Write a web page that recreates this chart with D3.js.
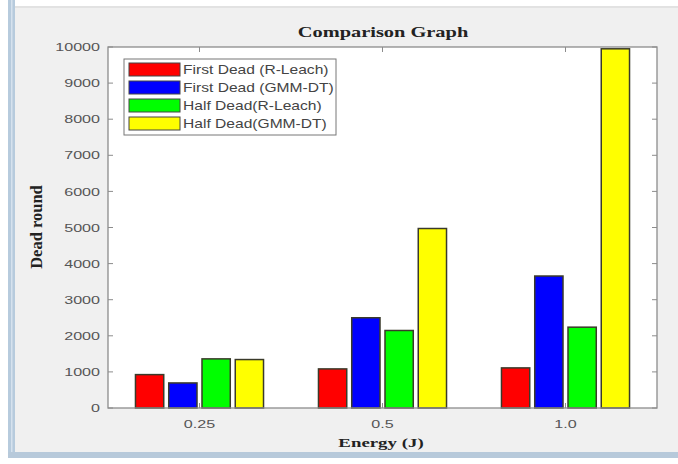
<!DOCTYPE html>
<html>
<head>
<meta charset="utf-8">
<script src="https://cdn.jsdelivr.net/npm/d3@7/dist/d3.min.js"></script>
<style>
  html, body { margin: 0; padding: 0; background: #ffffff; }
  svg { display: block; }
</style>
</head>
<body>
<script>
// ---- data ----
const categories = ["0.25", "0.5", "1.0"];
const seriesNames = ["First Dead (R-Leach)", "First Dead (GMM-DT)", "Half Dead(R-Leach)", "Half Dead(GMM-DT)"];
const firstDeadRLeach = [925, 1083, 1111];
const firstDeadGMMDT = [694, 2500, 3656];
const halfDeadRLeach = [1361, 2147, 2239];
const halfDeadGMMDT = [1342, 4972, 9950];
const yTicks = [0, 1000, 2000, 3000, 4000, 5000, 6000, 7000, 8000, 9000, 10000];
const seriesColors = ["#ff0000", "#0000ff", "#00ff00", "#ffff00"];
const seriesValues = [firstDeadRLeach, firstDeadGMMDT, halfDeadRLeach, halfDeadGMMDT];

const W = 678, H = 464;
const svg = d3.select("body").append("svg").attr("width", W).attr("height", H);

// window frame / figure background
svg.append("rect").attr("x", 0).attr("y", 0).attr("width", W).attr("height", H).attr("fill", "#ffffff");
svg.append("rect").attr("x", 15).attr("y", 7).attr("width", W - 15).attr("height", 445).attr("fill", "#f0f0f0");
svg.append("rect").attr("x", 15).attr("y", 6).attr("width", W - 15).attr("height", 2).attr("fill", "#e2e2e2");
svg.append("rect").attr("x", 8).attr("y", 0).attr("width", 7).attr("height", 458).attr("fill", "#b7cbdd");
svg.append("rect").attr("x", 11).attr("y", 0).attr("width", 1.5).attr("height", 455).attr("fill", "#d6e2ee");
svg.append("rect").attr("x", 8).attr("y", 452).attr("width", W - 8).attr("height", 6).attr("fill", "#b7c9da");

const L = 108, R = 657, T = 47, B = 408;

const x0 = d3.scaleBand().domain(categories).range([L, R]).padding(0);
const groupW = x0.bandwidth() * 0.727;
const x1 = d3.scaleBand().domain(d3.range(seriesNames.length)).range([0, groupW])
  .paddingInner(0.15).paddingOuter(0.075);
const y = d3.scaleLinear().domain([0, 10000]).range([B, T]);

// plot area
svg.append("rect").attr("x", L).attr("y", T).attr("width", R - L).attr("height", B - T).attr("fill", "#ffffff");

// bars
const groups = svg.append("g").selectAll("g").data(categories).join("g")
  .attr("transform", d => `translate(${x0(d) + (x0.bandwidth() - groupW) / 2},0)`);
groups.selectAll("rect").data((d, i) => seriesValues.map((s, k) => ({ k, v: s[i] }))).join("rect")
  .attr("x", d => x1(d.k))
  .attr("width", x1.bandwidth())
  .attr("y", d => y(d.v))
  .attr("height", d => B - y(d.v))
  .attr("fill", d => seriesColors[d.k])
  .attr("stroke", "#3a3a2a")
  .attr("stroke-width", 1.5);

// axes box
const axisColor = "#8c8c8c";
svg.append("rect").attr("x", L).attr("y", T).attr("width", R - L).attr("height", B - T)
  .attr("fill", "none").attr("stroke", axisColor).attr("stroke-width", 1.3);

// ticks inward
const tickG = svg.append("g").attr("stroke", axisColor).attr("stroke-width", 1);
yTicks.forEach(t => {
  tickG.append("line").attr("x1", L).attr("x2", L + 5).attr("y1", y(t)).attr("y2", y(t));
  tickG.append("line").attr("x1", R).attr("x2", R - 5).attr("y1", y(t)).attr("y2", y(t));
});
categories.forEach(c => {
  const cx = x0(c) + x0.bandwidth() / 2;
  tickG.append("line").attr("x1", cx).attr("x2", cx).attr("y1", B).attr("y2", B - 5);
  tickG.append("line").attr("x1", cx).attr("x2", cx).attr("y1", T).attr("y2", T + 5);
});

function stext(x, yy, str, opts) {
  const g = svg.append("g").attr("transform", `translate(${x},${yy}) ${opts.rotate ? "rotate(" + opts.rotate + ")" : ""} scale(${opts.sx || 1},1)`);
  g.append("text").text(str)
    .attr("font-family", opts.family)
    .attr("font-size", opts.size)
    .attr("font-weight", opts.weight || "normal")
    .attr("fill", opts.fill || "#333")
    .attr("text-anchor", opts.anchor || "start")
    .attr("dominant-baseline", "central");
  return g;
}

const sans = "'Liberation Sans', Arial, sans-serif";
const serif = "'Liberation Serif', 'Times New Roman', serif";

yTicks.forEach(t => {
  stext(100, y(t), String(t), { family: sans, size: 11.5, sx: 1.4, anchor: "end", fill: "#555" });
});
categories.forEach(c => {
  stext(x0(c) + x0.bandwidth() / 2, 424, c, { family: sans, size: 11.5, sx: 1.4, anchor: "middle", fill: "#555" });
});

stext(383, 32, "Comparison Graph", { family: serif, size: 15, weight: "bold", sx: 1.36, anchor: "middle", fill: "#222" });
stext(381, 443, "Energy (J)", { family: serif, size: 13, weight: "bold", sx: 1.45, anchor: "middle", fill: "#222" });
stext(36, 227, "Dead round", { family: serif, size: 16.5, weight: "bold", rotate: -90, anchor: "middle", fill: "#222" });

// legend
svg.append("rect").attr("x", 124).attr("y", 59).attr("width", 212).attr("height", 76)
  .attr("fill", "#ffffff").attr("stroke", "#777").attr("stroke-width", 1);
seriesNames.forEach((n, i) => {
  const ly = 63 + i * 18;
  svg.append("rect").attr("x", 129).attr("y", ly).attr("width", 51).attr("height", 13)
    .attr("fill", seriesColors[i]).attr("stroke", "#444").attr("stroke-width", 1);
  stext(183, ly + 6.5, n, { family: sans, size: 12, sx: 1.3, fill: "#444" });
});
</script>
</body>
</html>
